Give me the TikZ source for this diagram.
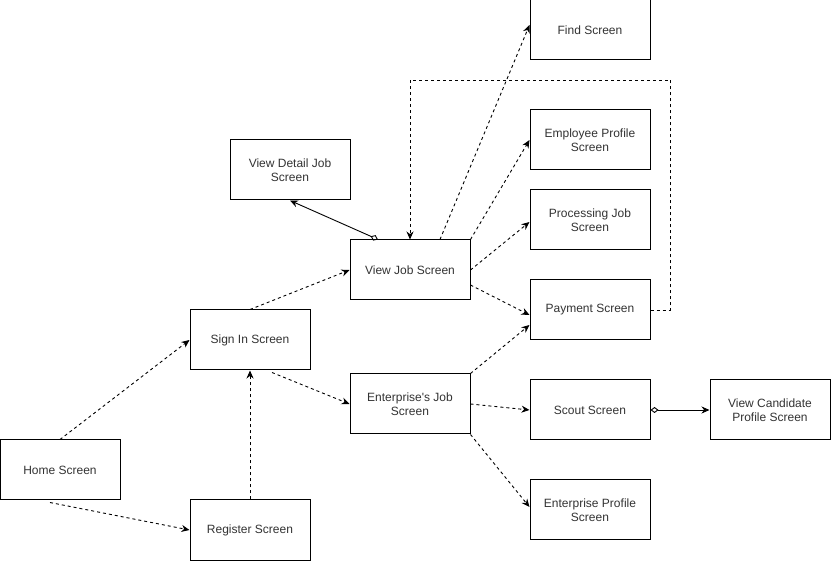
\documentclass[tikz,border=0pt]{standalone}
\usepackage{fontspec}
\setmainfont{Liberation Sans}
\usetikzlibrary{arrows.meta}
\begin{document}
\begin{tikzpicture}[x=1pt,y=-1pt,
  box/.style={draw=black,line width=1pt,fill=white,minimum width=120pt,minimum height=60pt,
    align=center,inner sep=2pt,text=black!80,font=\fontsize{12}{14}\selectfont},
  dep/.style={draw=black,line width=0.9pt,dash pattern=on 3pt off 3pt,
    -{Stealth[length=8pt,width=7pt]}},
  assoc/.style={draw=black,line width=0.9pt,
    {Diamond[open,length=8pt,width=6pt]}-{Stealth[length=8pt,width=7pt]}}]
\useasboundingbox (0,0) rectangle (831,561);
\node[box] (home) at (60,470) {Home Screen};
\node[box] (register) at (250,530) {Register Screen};
\node[box] (signin) at (250,340) {Sign In Screen};
\node[box] (viewjob) at (410,270) {View Job Screen};
\node[box] (detail) at (290,170) {View Detail Job\\Screen};
\node[box] (ent) at (410,404) {Enterprise\textquotesingle s Job\\Screen};
\node[box] (find) at (590,30) {Find Screen};
\node[box] (emp) at (590,140) {Employee Profile\\Screen};
\node[box] (proc) at (590,220) {Processing Job\\Screen};
\node[box] (pay) at (590,310) {Payment Screen};
\node[box] (scout) at (590,410) {Scout Screen};
\node[box] (entprof) at (590,510) {Enterprise Profile\\Screen};
\node[box] (cand) at (770,410) {View Candidate\\Profile Screen};
\coordinate (loop) at (670,80);

\draw[dep] (home.north) -- (signin.west);
\draw[dep] ([xshift=-10pt,yshift=-2pt]home.south) -- (register.west);
\draw[dep] (register.north) -- (signin.south);
\draw[dep] (signin.north) -- (viewjob.west);
\draw[dep] ([xshift=22pt,yshift=-2pt]signin.south) -- (ent.west);
\draw[dep] ([xshift=30pt]viewjob.north) -- ([yshift=5pt]find.west);
\draw[dep] (viewjob.north east) -- (emp.west);
\draw[dep] (viewjob.east) -- ([yshift=-2pt]proc.west);
\draw[dep] ([yshift=-15pt]viewjob.east) -- ([yshift=-5pt]pay.west);
\draw[dep] (ent.north east) -- ([yshift=-15pt]pay.west);
\draw[dep] (ent.east) -- (scout.west);
\draw[dep] (ent.south east) -- ([yshift=3pt]entprof.west);
\draw[dep] (pay.east) -| (loop) -| (viewjob.north);
\draw[assoc] ([xshift=-32pt]viewjob.north) -- (detail.south);
\draw[assoc] (scout.east) -- (cand.west);
\end{tikzpicture}
\end{document}
